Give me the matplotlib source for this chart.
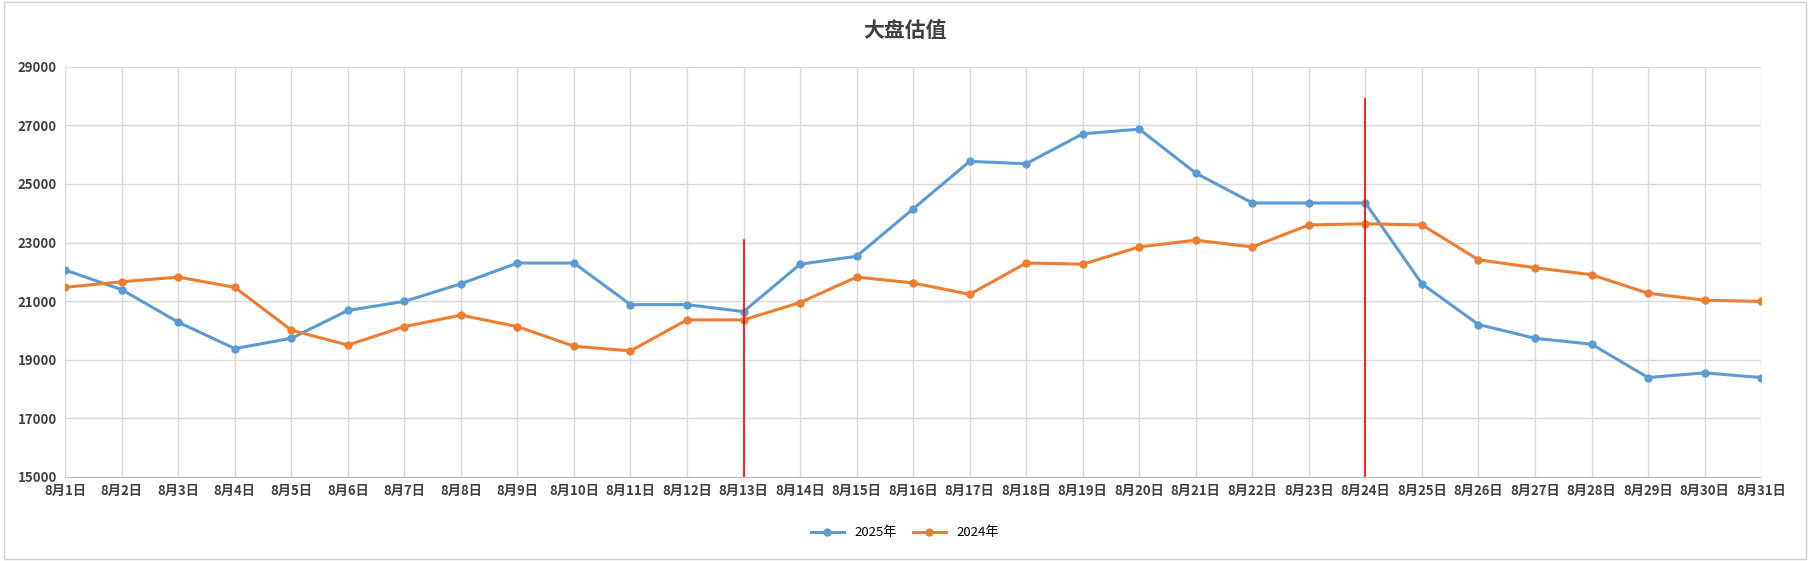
import matplotlib.pyplot as plt
from matplotlib.patches import Rectangle

plt.rcParams['font.family'] = ['Noto Sans CJK SC', 'DejaVu Sans']

days = [f"8月{i}日" for i in range(1, 32)]
v2025 = [22060, 21390, 20280, 19380, 19730, 20680, 20990, 21590, 22300, 22300,
         20880, 20880, 20640, 22260, 22530, 24150, 25770, 25690, 26710, 26870,
         25370, 24350, 24350, 24350, 21590, 20200, 19730, 19530, 18390, 18550, 18390]
v2024 = [21470, 21660, 21820, 21470, 20010, 19500, 20130, 20520, 20130, 19460,
         19300, 20360, 20360, 20950, 21820, 21620, 21230, 22300, 22260, 22850,
         23080, 22850, 23600, 23640, 23600, 22410, 22140, 21900, 21270, 21030, 20990]
# red markers: (day index, top value)
marks = [(12, 23100), (23, 27900)]

fig = plt.figure(figsize=(18.1, 5.61), dpi=100)
ax = fig.add_axes([0.036, 0.15, 0.937, 0.731])
fig.patches.append(Rectangle((0.002, 0.004), 0.996, 0.992, transform=fig.transFigure,
                             fill=False, edgecolor='#d0d0d0', lw=1))

x = range(len(days))
ax.plot(x, v2025, color='#5b9bd5', lw=2.2, marker='o', ms=5, label='2025年')
ax.plot(x, v2024, color='#ed7d31', lw=2.2, marker='o', ms=5, label='2024年')
for i, top in marks:
    ax.plot([i, i], [15000, top], color='red', lw=1.2)

ax.set_xlim(0, 30)
ax.set_ylim(15000, 29000)
ax.set_yticks(range(15000, 29001, 2000))
ax.set_xticks(list(x))
ax.set_xticklabels(days)
ax.grid(True, color='#d9d9d9', lw=1)
ax.set_axisbelow(True)
for s in ['top', 'right', 'left']:
    ax.spines[s].set_visible(False)
ax.spines['bottom'].set_color('#bfbfbf')
ax.tick_params(length=0, labelsize=9.5, colors='#404040')
ax.tick_params(axis='y', pad=6)
ax.tick_params(axis='x', pad=5)
for t in ax.get_xticklabels() + ax.get_yticklabels():
    t.set_fontweight('bold')

fig.text(0.5, 0.945, '大盘估值', ha='center', va='center', fontsize=15, color='#404040', fontweight='bold')
fig.legend(loc='center', bbox_to_anchor=(0.5, 0.05), ncol=2, frameon=False, fontsize=9.5,
           handlelength=2.5, columnspacing=1.2)
fig.savefig('out.png')
